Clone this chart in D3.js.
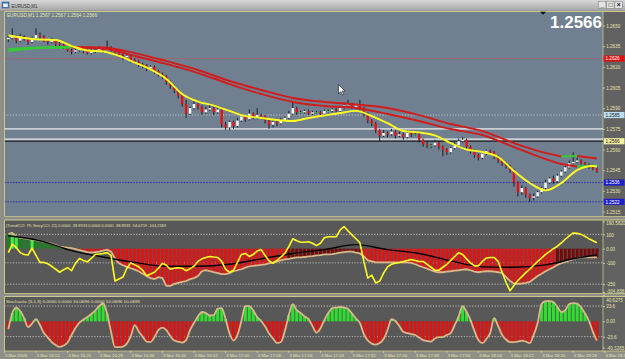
<!DOCTYPE html>
<html>
<head>
<meta charset="utf-8">
<script src="https://cdn.jsdelivr.net/npm/d3@7"></script>
<style>
  body { margin: 0; background: #8d8d8d; overflow: hidden; }
  svg { display: block; font-family: "Liberation Sans", Arial, sans-serif; }
</style>
</head>
<body>
<svg id="chart" width="625" height="359"></svg>
<script>
// ---- EURUSD M1 candles, 3 Mar 2009 16:05 .. 18:34 ----
var open = [1.2640,1.2641,1.2642,1.2639,1.2642,1.2640,1.2638,1.2641,1.2643,1.2642,
  1.2639,1.2638,1.2639,1.2637,1.2636,1.2634,1.2632,1.2631,1.2632,1.2633,
  1.2632,1.2630,1.2631,1.2632,1.2633,1.2632,1.2634,1.2632,1.2630,1.2629,
  1.2627,1.2628,1.2625,1.2624,1.2622,1.2621,1.2619,1.2620,1.2617,1.2615,
  1.2613,1.2609,1.2606,1.2603,1.2599,1.2593,1.2586,1.2590,1.2593,1.2591,
  1.2587,1.2589,1.2590,1.2587,1.2589,1.2578,1.2576,1.2580,1.2577,1.2581,
  1.2584,1.2582,1.2586,1.2583,1.2585,1.2584,1.2581,1.2578,1.2580,1.2579,
  1.2581,1.2583,1.2586,1.2590,1.2587,1.2587,1.2588,1.2586,1.2587,1.2587,
  1.2586,1.2588,1.2588,1.2589,1.2588,1.2590,1.2592,1.2593,1.2591,1.2592,
  1.2590,1.2586,1.2581,1.2579,1.2574,1.2570,1.2572,1.2571,1.2573,1.2570,
  1.2571,1.2569,1.2572,1.2571,1.2571,1.2567,1.2564,1.2563,1.2563,1.2565,
  1.2562,1.2560,1.2558,1.2561,1.2563,1.2566,1.2567,1.2562,1.2559,1.2556,
  1.2554,1.2557,1.2559,1.2558,1.2555,1.2552,1.2550,1.2548,1.2545,1.2536,
  1.2529,1.2532,1.2527,1.2525,1.2526,1.2529,1.2532,1.2536,1.2539,1.2537,
  1.2541,1.2544,1.2547,1.2550,1.2551,1.2552,1.2550,1.2549,1.2548,1.2546];
var high = [1.2643,1.2648,1.2643,1.2644,1.2643,1.2641,1.2642,1.2648,1.2645,1.2643,
  1.2640,1.2641,1.2640,1.2638,1.2637,1.2635,1.2633,1.2634,1.2635,1.2634,
  1.2633,1.2633,1.2634,1.2635,1.2634,1.2639,1.2635,1.2633,1.2631,1.2630,
  1.2629,1.2629,1.2626,1.2625,1.2623,1.2622,1.2621,1.2621,1.2618,1.2616,
  1.2614,1.2610,1.2607,1.2604,1.2600,1.2596,1.2591,1.2595,1.2594,1.2592,
  1.2591,1.2593,1.2591,1.2591,1.2591,1.2580,1.2581,1.2581,1.2583,1.2586,
  1.2585,1.2589,1.2587,1.2590,1.2586,1.2585,1.2582,1.2581,1.2581,1.2583,
  1.2584,1.2588,1.2594,1.2591,1.2588,1.2589,1.2589,1.2588,1.2588,1.2588,
  1.2589,1.2589,1.2590,1.2590,1.2591,1.2594,1.2596,1.2594,1.2593,1.2596,
  1.2591,1.2587,1.2582,1.2580,1.2575,1.2574,1.2573,1.2575,1.2574,1.2573,
  1.2572,1.2574,1.2573,1.2572,1.2572,1.2568,1.2566,1.2564,1.2567,1.2566,
  1.2563,1.2561,1.2562,1.2565,1.2568,1.2569,1.2568,1.2563,1.2560,1.2557,
  1.2558,1.2560,1.2560,1.2559,1.2556,1.2553,1.2551,1.2549,1.2546,1.2537,
  1.2534,1.2533,1.2528,1.2528,1.2530,1.2533,1.2538,1.2540,1.2541,1.2542,
  1.2545,1.2548,1.2552,1.2558,1.2554,1.2553,1.2551,1.2550,1.2549,1.2547];
var low = [1.2638,1.2640,1.2637,1.2638,1.2639,1.2636,1.2637,1.2640,1.2640,1.2638,
  1.2636,1.2637,1.2635,1.2634,1.2633,1.2631,1.2629,1.2630,1.2631,1.2630,
  1.2629,1.2629,1.2630,1.2631,1.2630,1.2630,1.2631,1.2628,1.2627,1.2625,
  1.2626,1.2623,1.2622,1.2620,1.2619,1.2617,1.2618,1.2615,1.2613,1.2611,
  1.2607,1.2604,1.2601,1.2597,1.2591,1.2583,1.2585,1.2589,1.2589,1.2585,
  1.2586,1.2588,1.2585,1.2586,1.2576,1.2574,1.2574,1.2575,1.2576,1.2580,
  1.2580,1.2581,1.2582,1.2582,1.2582,1.2579,1.2575,1.2576,1.2577,1.2578,
  1.2580,1.2582,1.2585,1.2585,1.2586,1.2586,1.2585,1.2585,1.2586,1.2585,
  1.2585,1.2587,1.2587,1.2587,1.2587,1.2589,1.2591,1.2590,1.2590,1.2588,
  1.2584,1.2579,1.2577,1.2572,1.2566,1.2569,1.2569,1.2570,1.2568,1.2569,
  1.2567,1.2568,1.2569,1.2570,1.2565,1.2562,1.2561,1.2561,1.2562,1.2560,
  1.2555,1.2556,1.2557,1.2560,1.2562,1.2565,1.2560,1.2557,1.2554,1.2552,
  1.2553,1.2556,1.2556,1.2553,1.2550,1.2548,1.2546,1.2543,1.2533,1.2526,
  1.2527,1.2525,1.2522,1.2523,1.2525,1.2528,1.2531,1.2535,1.2535,1.2536,
  1.2540,1.2543,1.2546,1.2549,1.2550,1.2549,1.2547,1.2546,1.2545,1.2543];
var close = [1.2641,1.2642,1.2639,1.2642,1.2640,1.2638,1.2641,1.2643,1.2642,1.2639,
  1.2638,1.2639,1.2637,1.2636,1.2634,1.2632,1.2631,1.2632,1.2633,1.2632,
  1.2630,1.2631,1.2632,1.2633,1.2632,1.2634,1.2632,1.2630,1.2629,1.2627,
  1.2628,1.2625,1.2624,1.2622,1.2621,1.2619,1.2620,1.2617,1.2615,1.2613,
  1.2609,1.2606,1.2603,1.2599,1.2593,1.2586,1.2590,1.2593,1.2591,1.2587,
  1.2589,1.2590,1.2587,1.2589,1.2578,1.2576,1.2580,1.2577,1.2581,1.2584,
  1.2582,1.2586,1.2583,1.2585,1.2584,1.2581,1.2578,1.2580,1.2579,1.2581,
  1.2583,1.2586,1.2590,1.2587,1.2587,1.2588,1.2586,1.2587,1.2587,1.2586,
  1.2588,1.2588,1.2589,1.2588,1.2590,1.2592,1.2593,1.2591,1.2592,1.2590,
  1.2586,1.2581,1.2579,1.2574,1.2570,1.2572,1.2571,1.2573,1.2570,1.2571,
  1.2569,1.2572,1.2571,1.2571,1.2567,1.2564,1.2563,1.2563,1.2565,1.2562,
  1.2560,1.2558,1.2561,1.2563,1.2566,1.2567,1.2562,1.2559,1.2556,1.2554,
  1.2557,1.2559,1.2558,1.2555,1.2552,1.2550,1.2548,1.2545,1.2536,1.2529,
  1.2532,1.2527,1.2525,1.2526,1.2529,1.2532,1.2536,1.2539,1.2537,1.2541,
  1.2544,1.2547,1.2550,1.2551,1.2552,1.2550,1.2549,1.2548,1.2546,1.2544];

// quote shown in the legend and the big label
var symbolName = 'EURUSD,M1';
var lastQuote = [1.2567, 1.2567, 1.2564, 1.2566];
var lastPrice = 1.2566;

// moving averages (read at the listed bars)
var fastMaBars = [0,4,8,12,16,20,24,28,32,36,40,44,48,52,56,60,64,68,72,76,80,84,88,92,96,100,104,108,112,116,120,124,128,132,136,140,144,148,149];
var fastMa = [1.26427,1.26409,1.26398,1.26395,1.26351,1.26319,1.26311,1.26279,1.26231,1.26181,
  1.26112,1.26003,1.25948,1.25919,1.25880,1.25843,1.25829,1.25814,1.25807,1.25829,
  1.25847,1.25865,1.25880,1.25843,1.25792,1.25734,1.25724,1.25702,1.25647,1.25600,
  1.25582,1.25546,1.25444,1.25357,1.25303,1.25357,1.25451,1.25480,1.25477];
var slowMaBars = [0,8,16,24,32,40,48,56,64,72,80,88,96,104,112,120,128,136,140,144,149];
var slowMa = [1.26330,1.26340,1.26344,1.26340,1.26300,1.26242,1.26177,1.26097,1.26032,1.25974,1.25945,
  1.25927,1.25901,1.25850,1.25785,1.25734,1.25647,1.25575,1.25549,1.25553,1.25535];
var midMa = [1.26315,1.26337,1.26340,1.26333,1.26279,1.26221,1.26155,1.26075,1.26003,1.25945,1.25916,
  1.25901,1.25858,1.25807,1.25749,1.25705,1.25618,1.25531,1.25495,1.25477,1.25484];

// horizontal lines on the price chart
var redLevel = 1.2626, greyLevel = 1.2585, whiteLevels = [1.2575, 1.25675], bidPrice = 1.2566;
var blueLevels = [1.2536, 1.2522];
var priceTicks = [1.2650,1.2635,1.2620,1.2605,1.2590,1.2575,1.2560,1.2545,1.2530,1.2515];

// TrendCCI window
var trendCci = [103,110,86,76,72,69,62,59,55,48,
  41,34,24,14,10,7,3,-3,-10,-17,
  -24,-28,-24,-21,-14,-7,-21,-69,-103,-117,
  -128,-138,-148,-159,-176,-193,-207,-214,-200,-207,
  -262,-262,-248,-241,-234,-228,-214,-207,-193,-159,
  -152,-159,-166,-172,-179,-179,-172,-159,-152,-145,
  -134,-124,-121,-117,-114,-110,-103,-97,-90,-83,
  -76,-72,-66,-62,-62,-59,-55,-52,-48,-45,
  -41,-41,-38,-34,-28,-24,-21,-21,-28,-34,
  -55,-83,-90,-97,-97,-97,-97,-97,-97,-97,
  -97,-97,-100,-110,-121,-131,-141,-152,-162,-166,
  -166,-162,-159,-155,-152,-148,-145,-152,-162,-166,
  -162,-159,-159,-162,-166,-172,-200,-228,-245,-248,
  -245,-241,-234,-214,-193,-176,-159,-145,-131,-114,
  -103,-93,-83,-76,-66,-62,-62,-62,-62,-62];
var entryCci = [-28,31,7,-28,-41,-45,3,-48,-97,-97,
  -107,-124,-145,-166,-148,-134,-155,-103,-69,-83,
  -93,-69,-41,-38,-34,-28,-48,-228,-214,-200,
  -138,-100,-114,-128,-152,-190,-179,-166,-138,-103,
  -117,-145,-138,-134,-138,-155,-141,-124,-90,-72,
  -62,-55,-59,-62,-90,-145,-166,-152,-97,-41,
  -34,-55,-41,-17,-7,-48,-86,-103,-83,-59,
  -34,14,69,55,45,45,48,38,21,38,
  76,83,83,83,131,155,124,97,69,41,
  -90,-207,-186,-241,-228,-172,-128,-110,-103,-97,
  -90,-83,-76,-83,-90,-90,-110,-131,-152,-152,
  -131,-110,-83,-55,-28,-41,-72,-100,-121,-121,
  -90,-66,-62,-62,-90,-166,-238,-297,-259,-224,
  -197,-169,-145,-117,-90,-66,-41,-21,0,17,
  41,66,90,110,107,100,86,69,55,41];
var cciSignalBars = [0,8,16,24,32,40,48,56,64,72,80,88,96,104,112,120,128,136,144,149];
var cciSignal = [90,55,-14,-59,-97,-124,-124,-110,-72,-34,-7,28,-7,-34,-86,-128,-131,-114,-66,-45];
var cciTicks = [190.582,100,0,-100,-250,-304.838];
var cciTickLabels = ["190.5820","100","0.00","-100","-250","-304.838"];
var cciLevels = [100,-100,-250];

// Stochastic (5,1,3) window, centred on 50
var stoch = [-11.9,12.8,21.3,15.9,5.1,-8.8,-3.4,3.5,-5.7,-18.1,
  -25.0,-31.9,-36.6,-39.5,-37.3,-32.7,-21.1,-10.3,-1.9,2.8,
  6.6,11.3,16.7,23.6,27.5,12.0,-16.5,-39.8,-39.8,-38.9,
  -34.3,-22.7,-5.7,-15.7,-23.5,-31.2,-31.9,-24.2,-13.4,-9.6,
  -13.4,-22.7,-29.6,-31.2,-32.7,-28.9,-13.4,-2.6,7.4,14.4,
  12.8,9.0,9.7,19.8,20.5,3.5,-18.8,-29.6,-21.1,0.5,
  23.6,23.6,16.7,6.6,0.5,-8.0,-18.8,-26.5,-33.5,-31.9,
  -14.9,9.7,26.7,17.4,12.8,7.4,3.5,-7.3,-17.3,-11.1,
  2.0,12.8,20.5,21.3,22.1,21.3,19.0,12.0,4.3,-2.6,
  -19.6,-29.6,-34.3,-35.8,-33.5,-27.3,-13.4,3.5,0.5,-7.3,
  -16.5,-18.1,-19.6,-21.1,-25.0,-28.9,-30.4,-31.2,-26.5,-24.2,
  -24.2,-21.1,-18.1,-5.7,7.4,23.6,14.4,2.0,-14.9,-28.9,
  -33.5,-27.3,-17.7,5.1,-7.3,-20.8,-28.1,-31.9,-31.9,-31.2,
  -29.6,-31.2,-33.5,-20.8,-2.6,26.7,31.3,31.3,29.8,22.1,
  14.4,17.4,26.7,28.2,27.5,21.3,12.0,0.5,-16.5,-29.6];
var stochTicks = [40.6275,23.6,0,-23.6,-40.3265];
var stochTickLabels = ["40.6275","23.6","0.00","-23.6","-40.3265"];
var stochLevels = [23.6,-23.6];

// time axis
var timeBars = [-1,7,15,23,31,39,47,55,63,71,79,87,95,103,111,119,127,135,143,151];
var timeLabels = ["3 Mar 2009","3 Mar 16:12","3 Mar 16:20","3 Mar 16:28","3 Mar 16:36","3 Mar 16:44",
  "3 Mar 16:52","3 Mar 17:00","3 Mar 17:08","3 Mar 17:16","3 Mar 17:24","3 Mar 17:32","3 Mar 17:40",
  "3 Mar 17:48","3 Mar 17:56","3 Mar 18:04","3 Mar 18:12","3 Mar 18:20","3 Mar 18:28","3 Mar 18:36"];

// ---------------------------------------------------------------
var svg = d3.select('#chart');
var plotL = 4.5, plotR = 603, W = 625;
var frameCol = '#c9c98e', axisCol = '#e4e4a8';
var pMain = {top: 11.5, bottom: 216.5}, pCci = {top: 220, bottom: 293.5}, pSto = {top: 296.5, bottom: 351};

var x = d3.scaleLinear().domain([0, 149]).range([8.35, 596.9]);
var y = d3.scaleLinear().domain([1.2515, 1.2650]).range([211.5, 25.5]);
var yCci = d3.scaleLinear().domain([-304.838, 190.582]).range([292, 221.5]);
var ySto = d3.scaleLinear().domain([-40.3265, 40.6275]).range([347.5, 295]);
var fmt4 = d3.format('.4f');

var defs = svg.append('defs');
var tb = defs.append('linearGradient').attr('id', 'tb').attr('x1', 0).attr('y1', 0).attr('x2', 0).attr('y2', 1);
tb.append('stop').attr('offset', 0).attr('stop-color', '#d8d8d8');
tb.append('stop').attr('offset', 1).attr('stop-color', '#a6a6a6');

[['cMain', pMain], ['cCci', pCci], ['cSto', pSto]].forEach(function(c) {
  defs.append('clipPath').attr('id', c[0]).append('rect')
    .attr('x', plotL).attr('y', c[1].top).attr('width', plotR - plotL).attr('height', c[1].bottom - c[1].top);
});

// window frame + title bar
svg.append('rect').attr('width', W).attr('height', 359).attr('fill', '#8f8f88');
svg.append('rect').attr('width', W).attr('height', 10.5).attr('fill', 'url(#tb)');
svg.append('rect').attr('x', 2).attr('y', 2).attr('width', 7).attr('height', 6).attr('fill', '#4c7cc0').attr('stroke', '#2a4f86').attr('stroke-width', 0.5);
svg.append('rect').attr('x', 3.2).attr('y', 3.6).attr('width', 4.6).attr('height', 3.4).attr('fill', '#eef3fa');
svg.append('text').attr('x', 11.5).attr('y', 7.8).attr('font-size', 6).attr('fill', '#333')
  .attr('textLength', 26).attr('lengthAdjust', 'spacingAndGlyphs').text(symbolName);
['_', '\u25a1', '\u00d7'].forEach(function(s, k) {
  var bx = 598.5 + k * 8.2;
  svg.append('rect').attr('x', bx).attr('y', 1.2).attr('width', 7.4).attr('height', 7.2)
    .attr('fill', '#e4e4e4').attr('stroke', '#777').attr('stroke-width', 0.5);
  svg.append('text').attr('x', bx + 3.7).attr('y', 7.3).attr('text-anchor', 'middle')
    .attr('font-size', 6.5).attr('font-weight', 'bold').attr('fill', '#111').text(s);
});

// panels
[[pMain, '#708090'], [pCci, '#585858'], [pSto, '#585858']].forEach(function(p) {
  svg.append('rect').attr('x', plotL).attr('y', p[0].top).attr('width', plotR - plotL)
    .attr('height', p[0].bottom - p[0].top).attr('fill', p[1]);
  svg.append('rect').attr('x', plotR).attr('y', p[0].top).attr('width', W - plotR)
    .attr('height', p[0].bottom - p[0].top).attr('fill', '#626262');
  svg.append('line').attr('x1', plotL).attr('x2', W).attr('y1', p[0].top).attr('y2', p[0].top)
    .attr('stroke', frameCol).attr('stroke-width', 1.2);
  svg.append('line').attr('x1', plotL).attr('x2', W).attr('y1', p[0].bottom).attr('y2', p[0].bottom)
    .attr('stroke', frameCol).attr('stroke-width', 0.8);
  svg.append('line').attr('x1', plotL).attr('x2', plotL).attr('y1', p[0].top).attr('y2', p[0].bottom)
    .attr('stroke', frameCol).attr('stroke-width', 1);
  svg.append('line').attr('x1', plotR).attr('x2', plotR).attr('y1', p[0].top).attr('y2', p[0].bottom)
    .attr('stroke', frameCol).attr('stroke-width', 0.8);
});

// ---------- main price chart ----------
var gMain = svg.append('g').attr('clip-path', 'url(#cMain)');

gMain.append('line').attr('x1', plotL).attr('x2', plotR).attr('y1', y(redLevel)).attr('y2', y(redLevel))
  .attr('stroke', '#d84848').attr('stroke-width', 0.8).attr('stroke-dasharray', '1.2,1.2');
gMain.append('line').attr('x1', plotL).attr('x2', plotR).attr('y1', y(greyLevel)).attr('y2', y(greyLevel))
  .attr('stroke', '#d8d8d8').attr('stroke-width', 0.8).attr('stroke-dasharray', '1.2,1.6');
gMain.selectAll('line.wl').data(whiteLevels).join('line').attr('class', 'wl')
  .attr('x1', plotL).attr('x2', plotR).attr('y1', function(d) { return y(d); }).attr('y2', function(d) { return y(d); })
  .attr('stroke', '#eeeeee').attr('stroke-width', 1.4);
gMain.append('line').attr('x1', plotL).attr('x2', plotR).attr('y1', y(bidPrice)).attr('y2', y(bidPrice))
  .attr('stroke', '#1c1c1c').attr('stroke-width', 1.2);
gMain.selectAll('line.bl').data(blueLevels).join('line').attr('class', 'bl')
  .attr('x1', plotL).attr('x2', plotR).attr('y1', function(d) { return y(d); }).attr('y2', function(d) { return y(d); })
  .attr('stroke', '#2828a8').attr('stroke-width', 0.9).attr('stroke-dasharray', '1.6,1.2');

var bars = d3.range(close.length).map(function(i) {
  return {i: i, o: open[i], h: high[i], l: low[i], c: close[i]};
});
gMain.selectAll('line.wick').data(bars).join('line').attr('class', 'wick')
  .attr('x1', function(d) { return x(d.i); }).attr('x2', function(d) { return x(d.i); })
  .attr('y1', function(d) { return y(d.h); }).attr('y2', function(d) { return y(d.l); })
  .attr('stroke', '#141414').attr('stroke-width', 0.9);
gMain.selectAll('rect.body').data(bars).join('rect').attr('class', 'body')
  .attr('x', function(d) { return x(d.i) - 1.2; }).attr('width', 2.4)
  .attr('y', function(d) { return y(Math.max(d.o, d.c)); })
  .attr('height', function(d) { return Math.max(1, Math.abs(y(d.o) - y(d.c))); })
  .attr('fill', function(d) { return d.c > d.o ? '#ffffff' : (d.c < d.o ? '#e01414' : '#3ccf3c'); });

// MA lines; upCol colours the rising stretches
function maLine(g, barIdx, vals, col, upCol, yScale) {
  var pts = barIdx.map(function(b, k) { return [x(b), yScale(vals[k]), vals[k]]; });
  var runs = [], cur = [pts[0]], up = null;
  for (var k = 1; k < pts.length; k++) {
    var r = pts[k][2] > pts[k - 1][2];
    if (up !== null && r !== up && upCol) { runs.push({up: up, pts: cur}); cur = [pts[k - 1]]; }
    cur.push(pts[k]); up = r;
  }
  runs.push({up: up, pts: cur});
  var ln = d3.line().x(function(d) { return d[0]; }).y(function(d) { return d[1]; }).curve(d3.curveMonotoneX);
  runs.forEach(function(run) {
    g.append('path').attr('d', ln(run.pts)).attr('fill', 'none')
      .attr('stroke', upCol && run.up ? upCol : col).attr('stroke-width', 1.9).attr('stroke-linejoin', 'round');
  });
}
maLine(gMain, slowMaBars, slowMa, '#d21c1c', '#33cc33', y);
maLine(gMain, slowMaBars, midMa, '#d21c1c', '#33cc33', y);
maLine(gMain, fastMaBars, fastMa, '#ffff22', null, y);

// right-hand value axis for any panel
function rightAxis(scale, vals, labels, panel) {
  var ax = d3.axisRight(scale).tickValues(vals).tickSize(2).tickPadding(1.2)
    .tickFormat(function(d, i) { return labels ? labels[i] : fmt4(d); });
  var g = svg.append('g').attr('transform', 'translate(' + plotR + ',0)').call(ax)
    .attr('font-size', 4.6).attr('font-family', '"Liberation Sans", Arial, sans-serif');
  g.select('.domain').remove();
  g.selectAll('line').attr('stroke', axisCol).attr('stroke-width', 0.7);
  g.selectAll('text').attr('fill', axisCol).attr('dy', '0.35em')
    .attr('y', function(d) {
      var p = scale(d);
      if (p < panel.top + 3) return panel.top + 3 - p;
      if (p > panel.bottom - 3) return panel.bottom - 3 - p;
      return 0;
    });
  return g;
}
rightAxis(y, priceTicks, null, pMain);

function priceBox(price, fill, txtCol) {
  var py = y(price);
  svg.append('rect').attr('x', plotR + 0.8).attr('y', py - 3.1).attr('width', W - plotR - 1.3).attr('height', 6.2).attr('fill', fill);
  svg.append('text').attr('x', plotR + 2.5).attr('y', py + 1.7).attr('font-size', 4.6).attr('fill', txtCol).text(fmt4(price));
}
priceBox(redLevel, '#e01010', '#ffffff');
priceBox(greyLevel, '#bcdcf0', '#1a1a1a');
priceBox(bidPrice, '#f4f0a0', '#111111');
blueLevels.forEach(function(p) { priceBox(p, '#2020c8', '#ffffff'); });

// legend, current price, markers
svg.append('text').attr('x', 7).attr('y', 17).attr('font-size', 4.6).attr('fill', '#ece6a6')
  .attr('textLength', 90).attr('lengthAdjust', 'spacingAndGlyphs')
  .text(symbolName + '  ' + lastQuote.map(fmt4).join(' '));
svg.append('text').attr('x', 602).attr('y', 28).attr('text-anchor', 'end').attr('font-size', 17)
  .attr('font-weight', 'bold').attr('fill', '#ffffff').text(fmt4(lastPrice));
svg.append('path').attr('d', 'M540,11.8 L546,11.8 L543,14.8 Z').attr('fill', '#111');
svg.append('path').attr('transform', 'translate(338.5,84.5) scale(0.85)')
  .attr('d', 'M0,0 L0,11 L2.6,8.4 L4.6,12.4 L6.2,11.6 L4.3,7.8 L7.8,7.8 Z')
  .attr('fill', '#ffffff').attr('stroke', '#111').attr('stroke-width', 0.7);

// ---------- TrendCCI window ----------
var gCci = svg.append('g').attr('clip-path', 'url(#cCci)');
gCci.selectAll('line.lv').data(cciLevels).join('line').attr('class', 'lv')
  .attr('x1', plotL).attr('x2', plotR).attr('y1', function(d) { return yCci(d); }).attr('y2', function(d) { return yCci(d); })
  .attr('stroke', '#cfcfcf').attr('stroke-width', 0.8).attr('stroke-dasharray', '1.3,1.5');
gCci.selectAll('rect.h').data(trendCci).join('rect').attr('class', 'h')
  .attr('x', function(d, i) { return x(i) - 1.5; }).attr('width', 3)
  .attr('y', function(d) { return Math.min(yCci(d), yCci(0)); })
  .attr('height', function(d) { return Math.abs(yCci(d) - yCci(0)); })
  .attr('fill', function(d, i) {
    var e = entryCci[i] > 0;
    if (d >= 0) return e ? '#3cf03c' : '#1f7f22';
    return e ? '#760a0a' : '#e01414';
  });
var lnCci = d3.line().x(function(d, i) { return x(i); }).y(function(d) { return yCci(d); });
gCci.append('path').attr('d', lnCci(trendCci)).attr('fill', 'none').attr('stroke', '#d8b98a').attr('stroke-width', 1.8);
gCci.append('path').attr('d', d3.line().x(function(d, k) { return x(cciSignalBars[k]); }).y(function(d) { return yCci(d); })
  .curve(d3.curveMonotoneX)(cciSignal)).attr('fill', 'none').attr('stroke', '#000').attr('stroke-width', 1.4);
gCci.append('path').attr('d', lnCci(entryCci)).attr('fill', 'none').attr('stroke', '#ffff22').attr('stroke-width', 1.6)
  .attr('stroke-linejoin', 'round');
rightAxis(yCci, cciTicks, cciTickLabels, pCci);
svg.append('text').attr('x', 6).attr('y', 226.6).attr('font-size', 4).attr('fill', '#e6e0b0')
  .attr('textLength', 160).attr('lengthAdjust', 'spacingAndGlyphs')
  .text('(TrendCCI: 79, EntryCCI: 21) 0.0000 -38.8933 0.0000 0.0000 -38.8933 -94.6719 -104.2183');

// ---------- Stochastic window ----------
var gSto = svg.append('g').attr('clip-path', 'url(#cSto)');
gSto.selectAll('line.lv').data(stochLevels).join('line').attr('class', 'lv')
  .attr('x1', plotL).attr('x2', plotR).attr('y1', function(d) { return ySto(d); }).attr('y2', function(d) { return ySto(d); })
  .attr('stroke', '#cfcfcf').attr('stroke-width', 0.8).attr('stroke-dasharray', '1.3,1.5');
gSto.selectAll('rect.h').data(stoch).join('rect').attr('class', 'h')
  .attr('x', function(d, i) { return x(i) - 1.5; }).attr('width', 3)
  .attr('y', function(d) { return Math.min(ySto(d), ySto(0)); })
  .attr('height', function(d) { return Math.abs(ySto(d) - ySto(0)); })
  .attr('fill', function(d) { return d >= 0 ? '#2ee02e' : '#dc1414'; });
gSto.append('path').attr('d', d3.line().x(function(d, i) { return x(i); }).y(function(d) { return ySto(d); })
  .curve(d3.curveMonotoneX)(stoch)).attr('fill', 'none').attr('stroke', '#d8b98a').attr('stroke-width', 1.8);
rightAxis(ySto, stochTicks, stochTickLabels, pSto);
svg.append('text').attr('x', 6).attr('y', 302.6).attr('font-size', 4.2).attr('fill', '#e6e0b0')
  .attr('textLength', 134).attr('lengthAdjust', 'spacingAndGlyphs')
  .text('Stochastic (5,1,3) 0.0000 0.0000 10.0696 0.0000 10.0696 10.0696');

// ---------- time axis ----------
var gT = svg.append('g');
timeBars.forEach(function(b, k) {
  var tx = x(b);
  gT.append('line').attr('x1', tx).attr('x2', tx).attr('y1', pSto.bottom).attr('y2', pSto.bottom + 2)
    .attr('stroke', axisCol).attr('stroke-width', 0.7);
  gT.append('text').attr('x', tx + 0.6).attr('y', 357).attr('font-size', 4.3).attr('fill', axisCol)
    .attr('textLength', k === 0 ? 22 : 23).attr('lengthAdjust', 'spacingAndGlyphs').text(timeLabels[k]);
});
</script>
</body>
</html>
